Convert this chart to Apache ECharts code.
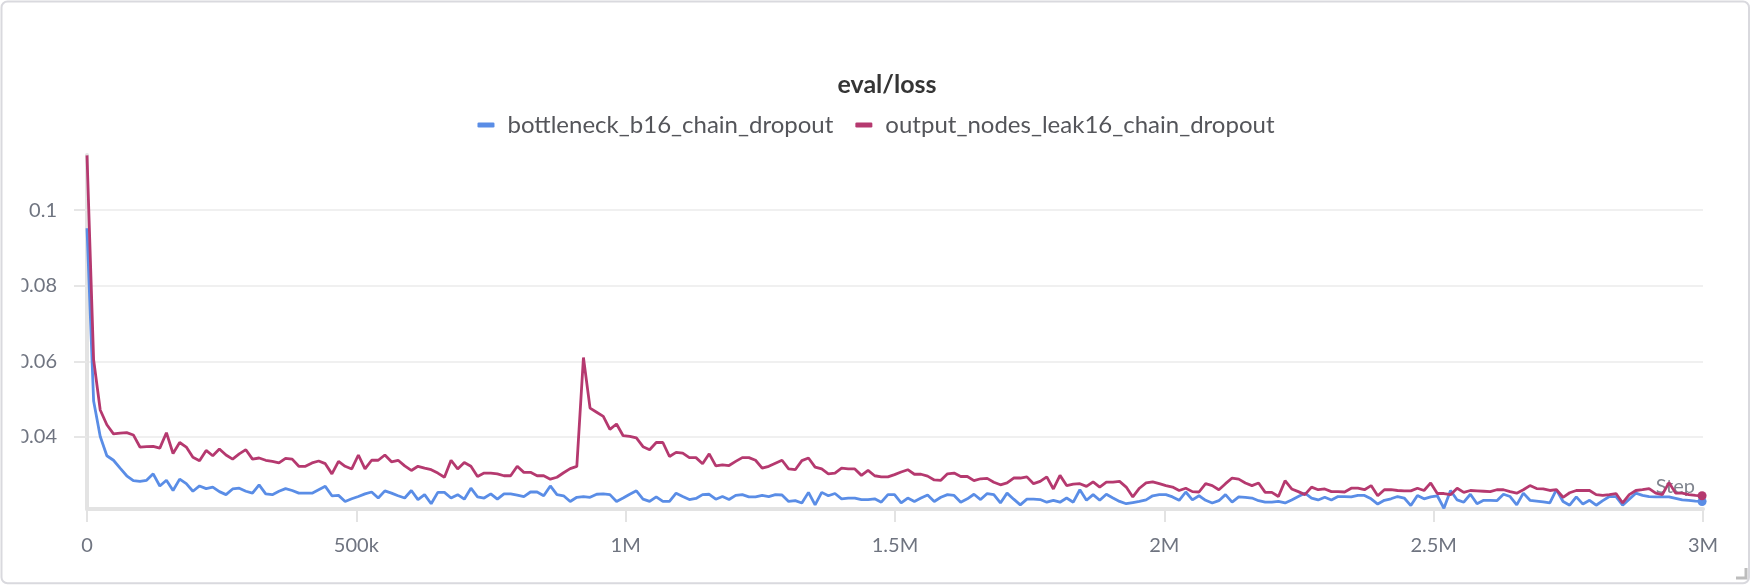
<!DOCTYPE html>
<html><head><meta charset="utf-8">
<script src="https://cdn.jsdelivr.net/npm/echarts@6/dist/echarts.min.js"></script>
<style>html,body{margin:0;padding:0;background:#fff}#c{width:1752px;height:586px}</style>
</head><body><div id="c"></div>
<script>
const chartTitle = 'eval/loss';
const seriesNames = ['bottleneck_b16_chain_dropout', 'output_nodes_leak16_chain_dropout'];
const evalEvery = 12288; // steps between evaluations
const bottleneck = [
.0952,.0495,.0401,.0350,.0338,.0317,.0297,.0284,.0282,.0285,
.0302,.0270,.0285,.0258,.0288,.0276,.0256,.0270,.0263,.0267,
.0255,.0247,.0262,.0264,.0256,.0251,.0273,.0249,.0247,.0256,
.0263,.0258,.0251,.0251,.0251,.0260,.0269,.0244,.0245,.0229,
.0236,.0242,.0249,.0254,.0238,.0257,.0251,.0244,.0238,.0258,
.0234,.0247,.0223,.0253,.0253,.0238,.0247,.0235,.0264,.0241,
.0238,.0249,.0235,.0249,.0249,.0246,.0242,.0254,.0254,.0244,
.0270,.0247,.0244,.0229,.0240,.0242,.0240,.0248,.0249,.0247,
.0229,.0238,.0248,.0257,.0235,.0229,.0241,.0229,.0229,.0251,
.0242,.0234,.0237,.0247,.0248,.0235,.0242,.0234,.0245,.0247,
.0241,.0241,.0245,.0242,.0247,.0246,.0229,.0231,.0225,.0253,
.0220,.0253,.0244,.0250,.0236,.0238,.0238,.0234,.0234,.0236,
.0227,.0247,.0247,.0225,.0238,.0229,.0238,.0246,.0229,.0240,
.0247,.0245,.0227,.0236,.0248,.0234,.0250,.0247,.0225,.0251,
.0235,.0220,.0235,.0235,.0234,.0227,.0232,.0227,.0238,.0227,
.0260,.0232,.0247,.0232,.0248,.0238,.0229,.0223,.0226,.0229,
.0233,.0244,.0247,.0247,.0241,.0232,.0254,.0233,.0244,.0232,
.0225,.0231,.0247,.0227,.0241,.0240,.0238,.0231,.0227,.0227,
.0229,.0225,.0233,.0242,.0251,.0238,.0233,.0240,.0233,.0242,
.0242,.0241,.0245,.0245,.0236,.0222,.0232,.0236,.0242,.0238,
.0218,.0245,.0236,.0241,.0244,.0211,.0258,.0233,.0227,.0248,
.0223,.0232,.0232,.0231,.0248,.0242,.0220,.0251,.0232,.0230,
.0228,.0225,.0260,.0229,.0219,.0241,.0222,.0232,.0219,.0231,
.0242,.0242,.0219,.0235,.0251,.0245,.0242,.0241,.0241,.0241,
.0237,.0233,.0232,.0230,.0229
];
const outputNodes = [
.1145,.0604,.0471,.0432,.0408,.0410,.0411,.0405,.0373,.0374,
.0375,.0370,.0411,.0356,.0385,.0373,.0346,.0337,.0364,.0350,
.0368,.0352,.0341,.0355,.0366,.0341,.0344,.0338,.0335,.0331,
.0343,.0341,.0322,.0322,.0331,.0336,.0329,.0302,.0335,.0322,
.0315,.0352,.0315,.0338,.0338,.0352,.0334,.0338,.0323,.0311,
.0322,.0317,.0313,.0304,.0293,.0338,.0315,.0332,.0322,.0295,
.0304,.0304,.0302,.0297,.0297,.0322,.0306,.0306,.0297,.0297,
.0288,.0293,.0305,.0316,.0322,.0610,.0476,.0465,.0454,.0420,
.0434,.0403,.0401,.0397,.0374,.0366,.0385,.0385,.0348,.0359,
.0357,.0345,.0345,.0329,.0355,.0323,.0326,.0324,.0335,.0345,
.0345,.0338,.0317,.0322,.0330,.0338,.0315,.0313,.0337,.0344,
.0320,.0315,.0302,.0304,.0317,.0315,.0315,.0298,.0311,.0297,
.0294,.0294,.0300,.0307,.0313,.0301,.0301,.0296,.0286,.0285,
.0302,.0304,.0295,.0295,.0284,.0289,.0290,.0280,.0273,.0278,
.0291,.0291,.0294,.0276,.0282,.0294,.0262,.0298,.0271,.0275,
.0276,.0269,.0281,.0267,.0280,.0280,.0282,.0267,.0241,.0264,
.0278,.0281,.0276,.0271,.0267,.0258,.0264,.0255,.0254,.0276,
.0271,.0260,.0276,.0291,.0288,.0278,.0271,.0278,.0253,.0253,
.0242,.0284,.0262,.0255,.0247,.0267,.0260,.0262,.0255,.0255,
.0254,.0264,.0264,.0260,.0271,.0244,.0260,.0260,.0258,.0257,
.0257,.0264,.0258,.0278,.0250,.0250,.0247,.0264,.0253,.0258,
.0257,.0256,.0255,.0260,.0260,.0255,.0251,.0260,.0271,.0263,
.0262,.0258,.0260,.0240,.0252,.0258,.0258,.0258,.0247,.0245,
.0247,.0250,.0225,.0247,.0258,.0260,.0263,.0251,.0247,.0279,
.0251,.0251,.0247,.0245,.0244
];
const yTicks = [0.04, 0.06, 0.08, 0.1];
const xTickStep = 500000;
const xRange = [0, 3000000];
const yRange = [0.0209, 0.1146];
const colors = ['#5a8de6', '#b5396f'];

const toPairs = arr => arr.map((v, k) => [k * evalEvery, v]);
const FONT = 'Lato';
const chart = echarts.init(document.getElementById('c'), null, {renderer: 'canvas'});
const endDot = n => (val, p) => p.dataIndex === n - 1 ? 9 : 0;

chart.setOption({
  animation: false,
  backgroundColor: '#ffffff',
  color: colors,
  title: {
    text: chartTitle, left: 887, textAlign: 'center', top: 72, padding: 0,
    textStyle: {fontFamily: FONT, fontSize: 25, fontWeight: 'bold', color: '#353535'}
  },
  legend: {
    top: 108, left: 'center', itemGap: 22, itemWidth: 17, itemHeight: 5, icon: 'roundRect',
    padding: [5, 5, 5, 11],
    data: seriesNames,
    textStyle: {fontFamily: FONT, fontSize: 24, padding: [0, 0, 0, 8]}
  },
  grid: {left: 87, right: 49, top: 155, bottom: 77},
  xAxis: {
    type: 'value', min: xRange[0], max: xRange[1], interval: xTickStep,
    name: 'Step', nameLocation: 'end', nameGap: -8,
    nameTextStyle: {fontFamily: FONT, fontSize: 20, color: '#80858f', align: 'right', verticalAlign: 'bottom', padding: [0, 0, 12, 0]},
    axisLine: {show: true, lineStyle: {color: '#e3e3e3', width: 4}},
    axisTick: {show: true, length: 13, lineStyle: {color: '#e3e3e3', width: 2}},
    splitLine: {show: false},
    axisLabel: {
      fontFamily: FONT, fontSize: 20, color: '#6f7480', margin: 27,
      formatter: v => v === 0 ? '0' : (v >= 1e6 ? (v / 1e6) + 'M' : (v / 1e3) + 'k')
    }
  },
  yAxis: {
    type: 'value', min: yRange[0], max: yRange[1],
    axisLine: {show: true, lineStyle: {color: '#e3e3e3', width: 4}},
    axisTick: {show: true, length: 13, customValues: yTicks, lineStyle: {color: '#e6e6e6', width: 2}},
    splitLine: {show: true, lineStyle: {color: '#ebebeb', width: 1.5}},
    axisLabel: {fontFamily: FONT, fontSize: 20, color: '#6f7480', margin: 30, customValues: yTicks}
  },
  series: [
    {name: seriesNames[0], type: 'line', data: toPairs(bottleneck), symbol: 'circle', showSymbol: true,
     symbolSize: endDot(bottleneck.length), lineStyle: {width: 2.8, color: colors[0]}, itemStyle: {color: colors[0]},
     emphasis: {disabled: true}, z: 2},
    {name: seriesNames[1], type: 'line', data: toPairs(outputNodes), symbol: 'circle', showSymbol: true,
     symbolSize: endDot(outputNodes.length), lineStyle: {width: 2.8, color: colors[1]}, itemStyle: {color: colors[1]},
     emphasis: {disabled: true}, z: 3}
  ],
  graphic: [
    {type: 'rect', z: 100, shape: {x: 2.5, y: 140, width: 19, height: 340}, style: {fill: '#ffffff'}},
    {type: 'rect', z: 101, shape: {x: 1.5, y: 1.5, width: 1747.5, height: 581.8, r: 6}, style: {fill: 'none', stroke: '#d9d9de', lineWidth: 2}},
    {type: 'polyline', z: 101, shape: {points: [[1736, 578], [1746, 578], [1746, 568]]}, style: {stroke: '#bdbdbd', lineWidth: 3, fill: 'none'}}
  ]
});
</script></body></html>
